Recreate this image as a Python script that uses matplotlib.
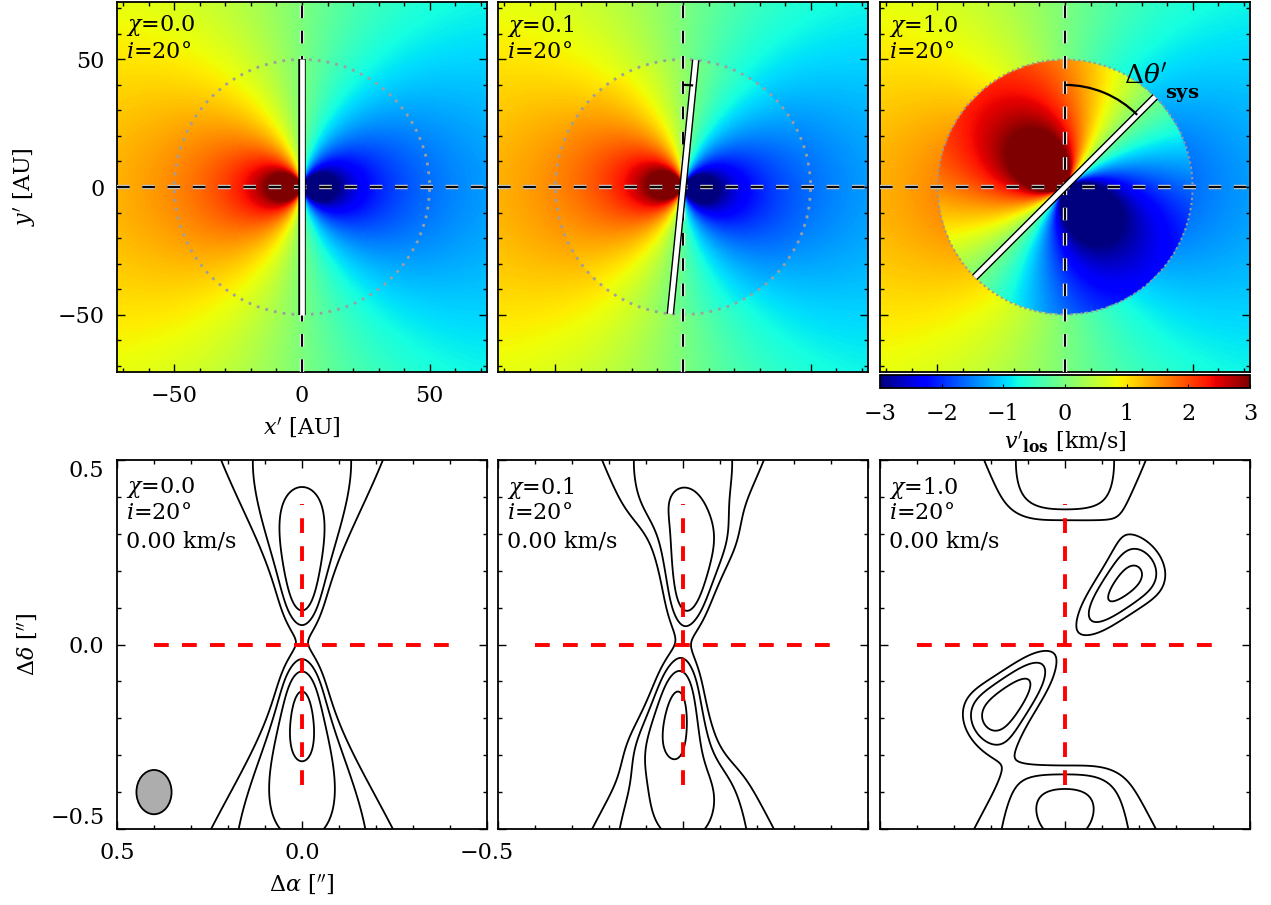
import math
import numpy as np
import matplotlib
matplotlib.use("Agg")
from matplotlib import pyplot as plt
from matplotlib import patheffects as pe
from matplotlib.patches import Ellipse, Arc, Circle

plt.rcParams['font.family'] = ['DejaVu Serif']
plt.rcParams['mathtext.fontset'] = 'dejavuserif'
plt.rcParams['font.size'] = 16
plt.rcParams['axes.unicode_minus'] = True

# ---------------- model parameters ----------------
CHI = [0.0, 0.1, 1.0]          # infall / rotation ratio inside the disk
INC_DEG = 20                   # inclination
V_CHANNEL = 0.0                # channel velocity of the lower row [km/s]
R_DISK = 50.0                  # disk radius [AU] (dotted circle)
V_AT_RDISK = 1.6               # |v_los| on the major axis at R_DISK [km/s]
DIST = 145.0                   # AU per arcsec
CHAN_WIDTH = 1.1               # channel width [km/s]
LINE_SIGMA = 0.25              # local line width [km/s]
SURF_INDEX = 0.8               # intensity ~ r^-p
R_SOFT = 4.0                   # inner softening radius [AU]
NEARSIDE = 0.08                # near/far side brightness asymmetry
BEAM = (0.095, 0.12)           # beam FWHM along alpha, delta [arcsec]
BEAM_POS = (0.4, -0.4)
LEVELS = [0.3, 0.44, 0.62, 0.88]  # contour levels, fraction of chi=0 peak
ARC_R = 40.0                   # radius of the d(theta) arc [AU]

VLIM = 3.0
MAP_HALF = 72.5
SKY_HALF = 0.5
CBAR_TICKS = [-3, -2, -1, 0, 1, 2, 3]
AU_TICKS = [-50, 0, 50]
ARCSEC_TICKS = [0.5, 0.0, -0.5]
CROSS_ALPHA = 0.4
CROSS_DELTA = 0.38

erf = np.frompyfunc(math.erf, 1, 1)


def v_los(x, y, chi):
    r = np.hypot(x, y)
    vk = V_AT_RDISK * np.sqrt(R_DISK / r)
    inner = -vk * (x - chi * y) / r
    outer = -vk * x / r
    return np.where(r < R_DISK, inner, outer)


def channel_map(chi):
    a = np.linspace(-0.8, 0.8, 320)
    A, D = np.meshgrid(a, a)
    xs, ys = -A * DIST, D * DIST
    r = np.hypot(xs, ys)
    surf = ((r**2 + R_SOFT**2) / R_DISK**2) ** (-SURF_INDEX / 2) * (1 - NEARSIDE * ys / r)
    dv = v_los(xs, ys, chi) - V_CHANNEL
    s2 = math.sqrt(2) * LINE_SIGMA
    prof = 0.5 * (erf((dv + CHAN_WIDTH / 2) / s2) - erf((dv - CHAN_WIDTH / 2) / s2)).astype(float)
    img = surf * prof
    sa, sd = BEAM[0] / 2.3548, BEAM[1] / 2.3548
    ac, dc = A - a[160], D - a[160]
    ker = np.exp(-(ac**2 / (2 * sa**2) + dc**2 / (2 * sd**2)))
    ker /= ker.sum()
    conv = np.real(np.fft.ifft2(np.fft.fft2(img) * np.fft.fft2(np.fft.ifftshift(ker))))
    return a, conv


def label(v, fmt):
    return (fmt % v).replace('-', '\u2212')


def style_axes(ax, major, minor):
    ax.set_xticks(major)
    ax.set_yticks(major)
    ax.set_xticks(minor, minor=True)
    ax.set_yticks(minor, minor=True)
    ax.tick_params(which='both', direction='in', top=True, right=True, width=1.0, color='k')
    ax.tick_params(which='major', length=6)
    ax.tick_params(which='minor', length=3)
    for s in ax.spines.values():
        s.set_linewidth(1.3)


def dashed(ax, xs, ys, color, under):
    ax.plot(xs, ys, color=color, lw=1.4, dashes=(6.5, 6.5),
            path_effects=[pe.Stroke(linewidth=3.2, foreground=under), pe.Normal()], zorder=4)


fig = plt.figure(figsize=(12.71, 9.05), dpi=100)
W, H = 1271., 905.
lefts = [117, 498, 880]

grid = np.linspace(-MAP_HALF, MAP_HALF, 290)
GX, GY = np.meshgrid(grid, grid)

for k, chi in enumerate(CHI):
    ax = fig.add_axes([lefts[k] / W, 1 - 372 / H, 370 / W, 370 / H])
    vmap = v_los(GX, GY, chi)
    im = ax.imshow(vmap, cmap='jet', vmin=-VLIM, vmax=VLIM, origin='lower',
                   extent=[-MAP_HALF, MAP_HALF, -MAP_HALF, MAP_HALF], interpolation='bilinear')
    ax.set_xlim(-MAP_HALF, MAP_HALF)
    ax.set_ylim(-MAP_HALF, MAP_HALF)
    style_axes(ax, AU_TICKS, np.arange(-70, 71, 10))

    dashed(ax, [-MAP_HALF, MAP_HALF], [0, 0], 'k', '0.75')
    dashed(ax, [0, 0], [-MAP_HALF, MAP_HALF], 'k', '0.9')

    if chi < 0.5:
        ax.add_patch(Circle((0, 0), R_DISK, fill=False, ec='0.62', lw=2.0,
                            ls=(0, (1, 2.2)), zorder=3))
    else:
        ax.add_patch(Circle((0, 0), R_DISK, fill=False, ec='0.6', lw=1.5,
                            ls=(0, (1, 1.5)), zorder=3))

    theta = np.degrees(np.arctan(chi))
    ang = np.radians(90 - theta)
    ex, ey = R_DISK * np.cos(ang), R_DISK * np.sin(ang)
    ax.plot([-ex, ex], [-ey, ey], color='white', lw=3.4, solid_capstyle='butt',
            path_effects=[pe.Stroke(linewidth=5.4, foreground='k'), pe.Normal()], zorder=5)
    if theta > 0:
        ax.add_patch(Arc((0, 0), 2 * ARC_R, 2 * ARC_R, theta1=90 - theta, theta2=90,
                         color='k', lw=1.6, zorder=5))
    if chi > 0.5:
        ax.text(23, 43, r"$\Delta\theta'$", fontsize=19, ha='left', va='center', zorder=6)
        ax.text(39, 36, r"$\mathbf{sys}$", fontsize=14, ha='left', va='center', zorder=6)

    ax.text(0.025, 0.97, r"$\chi$=%.1f" % chi, transform=ax.transAxes, fontsize=16, va='top')
    ax.text(0.025, 0.895, r"$i$=%d°" % INC_DEG, transform=ax.transAxes, fontsize=16, va='top')

    if k == 0:
        ax.set_xticklabels([label(t, "%d") for t in AU_TICKS])
        ax.set_yticklabels([label(t, "%d") for t in AU_TICKS])
        ax.set_xlabel(r"$x'$ [AU]", fontsize=16, labelpad=6)
        ax.set_ylabel(r"$y'$ [AU]", fontsize=16, labelpad=14)
        ax.tick_params(which='major', labelsize=16, pad=9)
    else:
        ax.set_xticklabels([])
        ax.set_yticklabels([])

    if k == 2:
        cax = fig.add_axes([880 / W, 1 - 388 / H, 370 / W, 13 / H])
        cb = fig.colorbar(im, cax=cax, orientation='horizontal', ticks=CBAR_TICKS)
        cb.ax.tick_params(direction='in', length=3, labelsize=16, pad=11)
        cb.outline.set_linewidth(1.3)
        cb.set_label(r"$v'_{\mathbf{los}}$ [km/s]", fontsize=16, labelpad=3)

# ---------------- lower row: synthetic channel maps ----------------
maps = [channel_map(chi) for chi in CHI]
peak = maps[0][1].max()

for k, chi in enumerate(CHI):
    ax = fig.add_axes([lefts[k] / W, 1 - 829 / H, 370 / W, 369 / H])
    a, img = maps[k]
    ax.contour(a, a, img / peak, levels=LEVELS, colors='k', linewidths=1.3)
    ax.set_xlim(SKY_HALF, -SKY_HALF)
    ax.set_ylim(-SKY_HALF, SKY_HALF)
    style_axes(ax, ARCSEC_TICKS, np.arange(-0.5, 0.51, 0.1))
    ax.plot([CROSS_ALPHA, -CROSS_ALPHA], [0, 0], color='red', lw=2.8, dashes=(3.8, 3.4))
    ax.plot([0, 0], [-CROSS_DELTA, CROSS_DELTA], color='red', lw=2.8, dashes=(3.8, 3.4))

    ax.text(0.025, 0.96, r"$\chi$=%.1f" % chi, transform=ax.transAxes, fontsize=16, va='top')
    ax.text(0.025, 0.885, r"$i$=%d°" % INC_DEG, transform=ax.transAxes, fontsize=16, va='top')
    ax.text(0.025, 0.81, "%.2f km/s" % V_CHANNEL, transform=ax.transAxes, fontsize=16, va='top')

    if k == 0:
        ax.add_patch(Ellipse(BEAM_POS, BEAM[0], BEAM[1], fc='0.68', ec='k', lw=1.3))
        ax.set_xticklabels([label(t, "%.1f") for t in ARCSEC_TICKS])
        ax.set_yticklabels([label(t, "%.1f") for t in ARCSEC_TICKS])
        ylab = ax.get_yticklabels()
        ylab[0].set_va('top')
        ylab[-1].set_va('bottom')
        ax.set_xlabel(r"$\Delta\alpha$ [$''$]", fontsize=16, labelpad=6)
        ax.set_ylabel(r"$\Delta\delta$ [$''$]", fontsize=16, labelpad=8)
        ax.tick_params(which='major', labelsize=16, pad=9)
    else:
        ax.set_xticklabels([])
        ax.set_yticklabels([])

fig.savefig("out.png", dpi=100)
